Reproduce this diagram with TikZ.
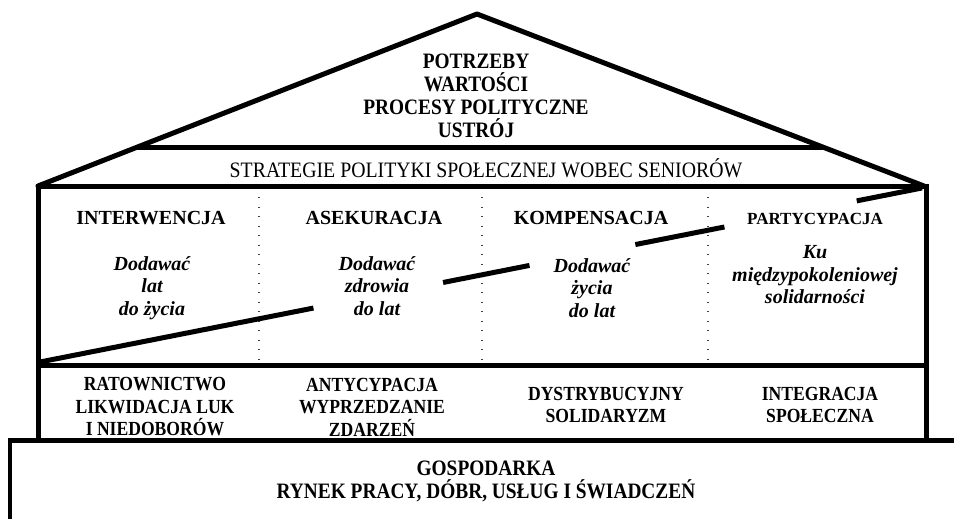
\documentclass[tikz,border=0pt]{standalone}
\usepackage{fontspec}
\setmainfont{Liberation Serif}
\newfontfamily\roofcond[FakeStretch=0.88]{Liberation Serif}
\newfontfamily\stratcond[FakeStretch=0.9]{Liberation Serif}
\usetikzlibrary{calc}
\tikzset{
  wall/.style={line width=5pt, line cap=butt, line join=miter},
  roofline/.style={line width=5pt, line cap=round, line join=round},
  basel/.style={line width=4.5pt},
  sep/.style={line width=1.4pt, black!75, dash pattern=on 1.4pt off 8.1pt},
  diag/.style={line width=5pt},
  rooftext/.style={align=center, inner sep=0pt, font=\roofcond\bfseries\fontsize{22}{23}\selectfont},
  strattext/.style={align=center, inner sep=0pt, font=\stratcond\fontsize{22}{24}\selectfont},
  head/.style={align=center, inner sep=0pt, font=\bfseries\fontsize{20}{22}\selectfont},
  headsmall/.style={align=center, inner sep=0pt, font=\bfseries\fontsize{17}{20}\selectfont},
  motto/.style={align=center, inner sep=0pt, font=\bfseries\itshape\fontsize{20}{22.5}\selectfont},
  lowtext/.style={align=center, inner sep=0pt, font=\roofcond\bfseries\fontsize{20}{22.5}\selectfont},
}
\begin{document}
\begin{tikzpicture}[x=1pt,y=-1pt]
\useasboundingbox (0,0) rectangle (954,519);
% key points
\coordinate (apex) at (477,14);
\coordinate (rl) at (38,186);
\coordinate (rr) at (924,186);
\coordinate (bl) at (38,440);
\coordinate (br) at (926,440);
\coordinate (tl) at (38,186);
\coordinate (tr) at (926,186);
\coordinate (ml) at (38,365);
\coordinate (mr) at (926,365);
% roof
\draw[roofline] (rl) -- (apex) -- (rr);
\coordinate (il) at ($(rl)!0.222!(apex)$);
\coordinate (ir) at ($(rr)!0.222!(apex)$);
\draw[wall] (il) -- (ir);
% house box
\draw[wall] (tl) rectangle (br);
\draw[wall] (ml) -- (mr);
% dotted separators
\foreach \x/\n in {259/a,482/b,708/c}{
  \coordinate (s\n t) at (\x,197);
  \coordinate (s\n b) at (\x,362);
  \draw[sep] (s\n t) -- (s\n b);
}
% base
\coordinate (gl) at (10,440.5);
\coordinate (gr) at (954,440.5);
\coordinate (gb) at (10,519);
\draw[basel, line join=miter] (gr) -- (gl) -- (gb);
% diagonal
\coordinate (dA) at (40,362);
\coordinate (dB) at (922,188);
\draw[diag] (dA) -- ($(dA)!0.31!(dB)$);
\draw[diag] ($(dA)!0.457!(dB)$) -- ($(dA)!0.555!(dB)$);
\draw[diag] ($(dA)!0.675!(dB)$) -- ($(dA)!0.776!(dB)$);
\draw[diag] ($(dA)!0.926!(dB)$) -- (dB);
% texts
\node[rooftext] (roof) at (476,96) {POTRZEBY\\WARTOŚCI\\PROCESY POLITYCZNE\\USTRÓJ};
\node[strattext] (strat) at (486,168) {STRATEGIE POLITYKI SPOŁECZNEJ WOBEC SENIORÓW};
\node[head] (h1) at (151,218) {INTERWENCJA};
\node[head] (h2) at (374,218) {ASEKURACJA};
\node[head] (h3) at (591,218) {KOMPENSACJA};
\node[headsmall] (h4) at (815,219) {PARTYCYPACJA};
\node[motto] (m1) at (152,288) {Dodawać\\lat\\do życia};
\node[motto] (m2) at (377,286) {Dodawać\\zdrowia\\do lat};
\node[motto] (m3) at (592,288) {Dodawać\\życia\\do lat};
\node[motto] (m4) at (815,275) {Ku\\międzypokoleniowej\\solidarności};
\node[lowtext] (b1) at (155,407) {RATOWNICTWO\\LIKWIDACJA LUK\\I NIEDOBORÓW};
\node[lowtext] (b2) at (372,407) {ANTYCYPACJA\\WYPRZEDZANIE\\ZDARZEŃ};
\node[lowtext] (b3) at (606,405) {DYSTRYBUCYJNY\\SOLIDARYZM};
\node[lowtext] (b4) at (820,405) {INTEGRACJA\\SPOŁECZNA};
\node[rooftext] (eco) at (486,481) {GOSPODARKA\\RYNEK PRACY, DÓBR, USŁUG I ŚWIADCZEŃ};
\end{tikzpicture}
\end{document}
